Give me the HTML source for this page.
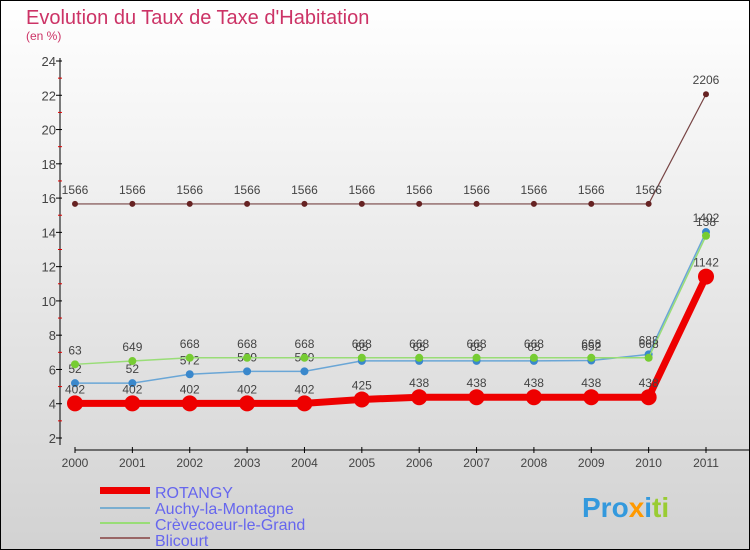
<!DOCTYPE html>
<html><head><meta charset="utf-8"><style>
body{margin:0}
#c{width:750px;height:550px;position:relative;overflow:hidden;font-family:"Liberation Sans",sans-serif}
</style></head><body>
<div id="c">
<svg id="s" width="750" height="550" xmlns="http://www.w3.org/2000/svg">
<defs><linearGradient id="bg" x1="0" y1="0" x2="0" y2="1"><stop offset="0" stop-color="#ffffff"/><stop offset="1" stop-color="#d2d2d2"/></linearGradient></defs>
<rect x="0.5" y="0.5" width="749" height="549" fill="url(#bg)" stroke="#000"/>
<text x="26" y="24" font-size="20" fill="#cc3366">Evolution du Taux de Taxe d'Habitation</text>
<text x="26" y="40" font-size="12" fill="#cc3366">(en %)</text>
<g id="axes"></g><g id="series"></g>
<g font-size="16" fill="#6666ee">
<rect x="100" y="487" width="50" height="7" fill="#ee0000"/>
<text x="155" y="498">ROTANGY</text>
<rect x="100" y="507" width="50" height="2" fill="#7aaed0"/>
<text x="155" y="514">Auchy-la-Montagne</text>
<rect x="100" y="522" width="50" height="2" fill="#99dd77"/>
<text x="155" y="530">Crèvecoeur-le-Grand</text>
<rect x="100" y="537" width="50" height="2" fill="#996666"/>
<text x="155" y="546">Blicourt</text>
</g>
<text x="582" y="517" font-size="28" font-weight="bold"><tspan fill="#3399dd">Pro</tspan><tspan fill="#ff9900">x</tspan><tspan fill="#3399dd">i</tspan><tspan fill="#99cc33">ti</tspan></text>
</svg>
</div>
<script>
const years=["2000","2001","2002","2003","2004","2005","2006","2007","2008","2009","2010","2011"];
const yTicks=[2,4,6,8,10,12,14,16,18,20,22,24];
const rotangy=[4.02,4.02,4.02,4.02,4.02,4.25,4.38,4.38,4.38,4.38,4.38,11.42];
const auchy=[5.2,5.2,5.72,5.89,5.89,6.5,6.5,6.5,6.5,6.52,6.88,14.02];
const crevecoeur=[6.3,6.49,6.68,6.68,6.68,6.68,6.68,6.68,6.68,6.68,6.68,13.8];
const blicourt=[15.66,15.66,15.66,15.66,15.66,15.66,15.66,15.66,15.66,15.66,15.66,22.06];
const NS="http://www.w3.org/2000/svg";
function X(i){return 75+i*(706-75)/11;}
function Y(v){return 438-(v-2)*(438-61)/22;}
function mk(t,a,p){const e=document.createElementNS(NS,t);for(const k in a)e.setAttribute(k,a[k]);p.appendChild(e);return e;}
const ax=document.getElementById('axes');
let yl=mk('line',{x1:60,y1:58,x2:60,y2:445,stroke:'#000'},ax);


let xl=mk('line',{x1:75,y1:450,x2:750,y2:450,stroke:'#000'},ax);


yTicks.forEach(v=>{const y=Y(v);mk('line',{x1:56,y1:y,x2:62,y2:y,stroke:'#000'},ax);
if(v<24)mk('line',{x1:58,y1:Y(v+1),x2:62,y2:Y(v+1),stroke:'#d00'},ax);
const t=mk('text',{x:56,y:y+5,'font-size':13,fill:'#444','text-anchor':'end'},ax);t.textContent=v;

});
years.forEach((yr,i)=>{mk('line',{x1:X(i),y1:447,x2:X(i),y2:453,stroke:'#000'},ax);
const t=mk('text',{x:X(i),y:467,'font-size':12,fill:'#444','text-anchor':'middle'},ax);t.textContent=yr;

});
const sg=document.getElementById('series');
function draw(vals,name,col,w,r,dot){
const g=mk('g',{},sg);


const pl=mk('polyline',{points:vals.map((v,i)=>X(i)+','+Y(v)).join(' '),fill:'none',stroke:col,'stroke-width':w},g);


vals.forEach((v,i)=>{const c=mk('circle',{cx:X(i),cy:Y(v),r:r,fill:dot},g);


const t=mk('text',{x:X(i),y:Y(v)-10,'font-size':12,fill:'#444','text-anchor':'middle'},g);
t.textContent=String(v).replace('.','');

});}
draw(blicourt,'blicourt','#774444',1.2,3,'#662222');
draw(auchy,'auchy','#6aa6d6',1.5,4,'#3a88cc');
draw(crevecoeur,'crevecoeur','#99dd77',1.5,4,'#77cc33');
draw(rotangy,'rotangy','#ee0000',7,8,'#ee0000');
</script>
</body></html>
